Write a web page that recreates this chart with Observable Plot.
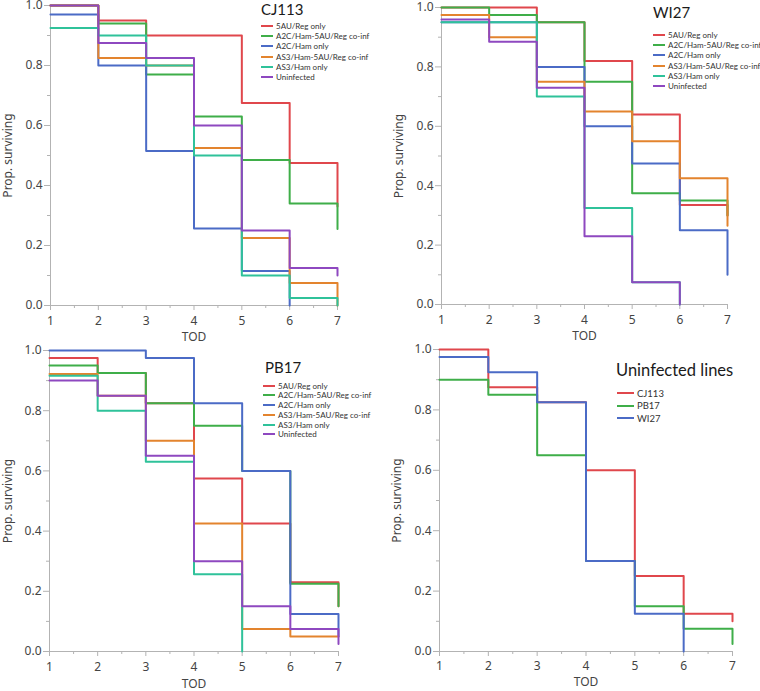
<!DOCTYPE html>
<html>
<head>
<meta charset="utf-8">
<script src="https://cdn.jsdelivr.net/npm/d3@7"></script>
<script src="https://cdn.jsdelivr.net/npm/@observablehq/plot@0.6"></script>
<style>
  html, body { margin: 0; padding: 0; background: #fff; }
  #root { position: relative; width: 760px; height: 691px; overflow: hidden; background: #fff; }
  .panel { position: absolute; }
  .panel svg { background: transparent !important; }
  .title { position: absolute; font-family: Lato, sans-serif; color: #1a1a1a; white-space: nowrap; }
  .lgrow { position: absolute; display: flex; align-items: center; font-family: Lato, sans-serif; color: #333; white-space: nowrap; }
  .sw { display: inline-block; flex: none; height: 2px; margin-right: 3px; }
</style>
</head>
<body>
<div id="root"></div>
<script>
// ---------- data ----------
const tod = [1, 2, 3, 4, 5, 6, 7];
const treatments = ["5AU/Reg only", "A2C/Ham-5AU/Reg co-inf", "A2C/Ham only", "AS3/Ham-5AU/Reg co-inf", "AS3/Ham only", "Uninfected"];
const treatmentColors = ["#e0474c", "#3fae49", "#4b6bc6", "#e3842e", "#2fc29a", "#8e48c0"];
const lines = ["CJ113", "PB17", "WI27"];
const lineColors = ["#e0474c", "#3fae49", "#4b6bc6"];

// proportion surviving at TOD 1..7 (one row per treatment, same order as treatments)
const cj113 = [
  [1.0, 0.95, 0.90, 0.90, 0.675, 0.475, 0.33],
  [1.0, 0.94, 0.77, 0.63, 0.485, 0.34, 0.255],
  [0.97, 0.80, 0.515, 0.257, 0.115, 0],
  [1.0, 0.825, 0.80, 0.525, 0.225, 0.075, 0],
  [0.925, 0.90, 0.80, 0.50, 0.10, 0.025, 0],
  [1.0, 0.875, 0.825, 0.60, 0.25, 0.125, 0.10]
];
const wi27 = [
  [1.0, 1.0, 0.95, 0.82, 0.64, 0.335, 0.30],
  [1.0, 0.975, 0.95, 0.75, 0.375, 0.35, 0.30],
  [0.95, 0.95, 0.80, 0.60, 0.475, 0.25, 0.10],
  [0.975, 0.90, 0.75, 0.65, 0.55, 0.425, 0.265],
  [0.95, 0.95, 0.70, 0.325, 0.075, 0],
  [0.96, 0.885, 0.73, 0.23, 0.075, 0]
];
const pb17 = [
  [0.975, 0.925, 0.825, 0.575, 0.425, 0.23, 0.15],
  [0.95, 0.925, 0.825, 0.75, 0.60, 0.225, 0.15],
  [1.0, 1.0, 0.975, 0.825, 0.60, 0.125, 0.05],
  [0.922, 0.85, 0.70, 0.425, 0.075, 0.05, 0.05],
  [0.916, 0.80, 0.63, 0.257, 0],
  [0.90, 0.85, 0.65, 0.30, 0.15, 0.075, 0.025]
];
const uninfected = [
  [1.0, 0.875, 0.825, 0.60, 0.25, 0.125, 0.10],
  [0.90, 0.85, 0.65, 0.30, 0.15, 0.075, 0.025],
  [0.975, 0.925, 0.825, 0.30, 0.125, 0]
];
const majorY = [0, 0.2, 0.4, 0.6, 0.8, 1.0];
const minorY = [0.1, 0.3, 0.5, 0.7, 0.9];
const minorX = [1.5, 2.5, 3.5, 4.5, 5.5, 6.5];

// ---------- drawing ----------
const root = document.getElementById("root");

function toRows(values, names) {
  const rows = [];
  values.forEach((vals, i) => vals.forEach((p, j) => rows.push({series: names[i], tod: tod[j], p})));
  return rows;
}

function panel(cfg) {
  const {left, top, width, height, m, values, names, colors, title, legend} = cfg;
  const data = toRows(values, names);
  const grey = "#b3b3b3";
  const chart = Plot.plot({
    width, height,
    marginLeft: m[0], marginRight: m[1], marginTop: m[2], marginBottom: m[3],
    x: {domain: [1, 7]},
    y: {domain: [0, 1]},
    color: {domain: names, range: colors},
    style: {fontFamily: "'Noto Sans', sans-serif", fontSize: "12px", color: "#444", background: "transparent", overflow: "visible"},
    marks: [
      Plot.ruleY([0], {stroke: grey}),
      Plot.ruleX([1], {stroke: grey}),
      Plot.axisX({ticks: tod, tickSize: 5, tickPadding: cfg.tp, tickFormat: d3.format("d"), stroke: grey, fill: "#444", label: "TOD", labelAnchor: "center", labelOffset: cfg.xlo, labelArrow: "none"}),
      Plot.axisX({ticks: minorX, tickSize: 3, tickFormat: () => "", stroke: grey, label: null}),
      Plot.axisY({ticks: majorY, tickSize: 6, tickPadding: 2, tickFormat: d3.format(".1f"), stroke: grey, fill: "#444", label: "Prop. surviving", labelAnchor: "center", labelOffset: cfg.ylo, labelArrow: "none"}),
      Plot.axisY({ticks: minorY, tickSize: 3, tickFormat: () => "", stroke: grey, label: null}),
      Plot.line(data, {x: "tod", y: "p", z: "series", stroke: "series", strokeWidth: 2, curve: "step-after"})
    ]
  });
  const wrap = document.createElement("div");
  wrap.className = "panel";
  wrap.style.left = left + "px";
  wrap.style.top = top + "px";
  wrap.appendChild(chart);
  root.appendChild(wrap);

  const t = document.createElement("div");
  t.className = "title";
  t.textContent = title.text;
  t.style.fontSize = title.size + "px";
  t.style.lineHeight = title.size + "px";
  t.style.left = title.x + "px";
  t.style.top = (title.baseline - 0.887 * title.size) + "px";
  root.appendChild(t);

  names.forEach((name, i) => {
    const r = document.createElement("div");
    r.className = "lgrow";
    r.style.left = legend.x + "px";
    r.style.top = (legend.y0 + i * legend.dy - 6) + "px";
    r.style.height = "12px";
    r.style.fontSize = legend.size + "px";
    const s = document.createElement("span");
    s.className = "sw";
    s.style.width = legend.sw + "px";
    s.style.background = colors[i];
    const tx = document.createElement("span");
    tx.textContent = name;
    r.appendChild(s);
    r.appendChild(tx);
    root.appendChild(r);
  });
}

panel({left: 0, top: 0, width: 380, height: 335, m: [50, 43, 5, 30], tp: 6, xlo: 35, ylo: 47,
  values: cj113, names: treatments, colors: treatmentColors,
  title: {text: "CJ113", size: 15, x: 261, baseline: 15.5},
  legend: {x: 261, y0: 25.7, dy: 10.3, size: 8, sw: 12}});
panel({left: 380, top: 0, width: 380, height: 335, m: [61, 33, 7, 31], tp: 6, xlo: 35, ylo: 46.7,
  values: wi27, names: treatments, colors: treatmentColors,
  title: {text: "WI27", size: 15, x: 653, baseline: 18},
  legend: {x: 653, y0: 35, dy: 10.2, size: 8, sw: 12}});
panel({left: 0, top: 335, width: 380, height: 356, m: [49, 42, 15, 40], tp: 6, xlo: 36, ylo: 46,
  values: pb17, names: treatments, colors: treatmentColors,
  title: {text: "PB17", size: 15, x: 265, baseline: 373},
  legend: {x: 263, y0: 385.7, dy: 9.75, size: 8, sw: 12}});
panel({left: 380, top: 335, width: 380, height: 356, m: [59, 28, 14, 40], tp: 5, xlo: 34, ylo: 47,
  values: uninfected, names: lines, colors: lineColors,
  title: {text: "Uninfected lines", size: 16.5, x: 616, baseline: 376.5},
  legend: {x: 617, y0: 393, dy: 12.6, size: 9.5, sw: 17}});
</script>
</body>
</html>
